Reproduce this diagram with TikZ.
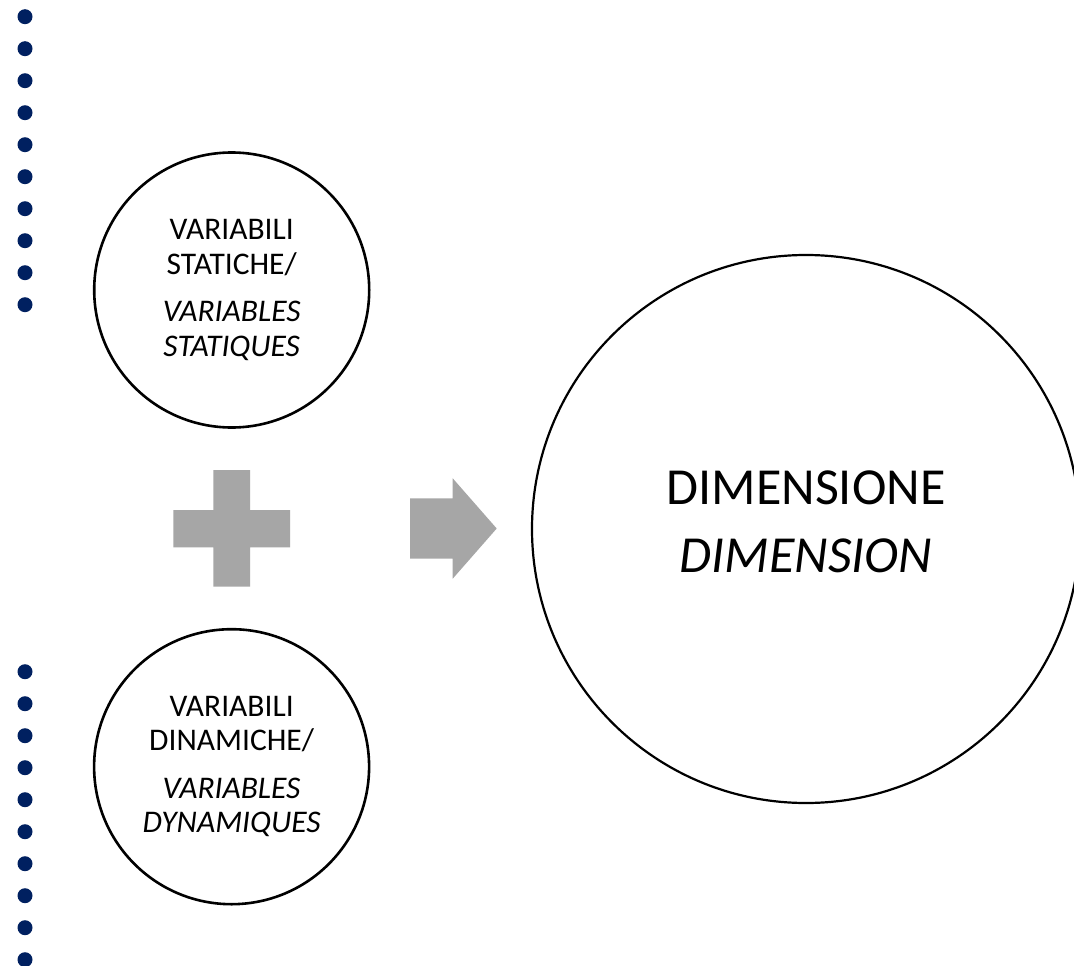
\documentclass[tikz,border=0pt]{standalone}
\usepackage{fontspec}
\setmainfont{Carlito}
\definecolor{navy}{HTML}{002060}
\definecolor{shapegray}{HTML}{A6A6A6}
\begin{document}
\begin{tikzpicture}[x=1pt,y=-1pt,
  smallcircle/.style={circle,draw=black,line width=2.6pt,minimum size=275pt,inner sep=0pt,align=center,font=\fontsize{31.5}{34.5}\selectfont},
  bigcircle/.style={circle,draw=black,line width=2.2pt,minimum size=548pt,inner sep=0pt},
  bigtext/.style={align=center,font=\fontsize{52}{68}\selectfont,inner sep=0pt},
  navydot/.style={fill=navy},
  graysym/.style={fill=shapegray}]
\useasboundingbox (0,0) rectangle (1074,966);
\clip (0,0) rectangle (1074,966);
\fill[white] (0,0) rectangle (1074,966);
\foreach \k in {0,...,9}{
  \fill[navydot] (25,16.7+32*\k) circle[radius=7.5pt];
  \fill[navydot] (25,671.7+32*\k) circle[radius=7.5pt];
}
\node[smallcircle] (stat) at (231.7,290) {VARIABILI\\STATICHE/\\[13pt]\textit{VARIABLES}\\\textit{STATIQUES}};
\node[smallcircle] (dyn) at (231.6,766.7) {VARIABILI\\DINAMICHE/\\[13pt]\textit{VARIABLES}\\\textit{DYNAMIQUES}};
\node[bigcircle] (dim) at (806,529) {};
\node[bigtext] (dimtext) at (806,521.7) {DIMENSIONE\\\textit{DIMENSION}};
\fill[graysym] (213.3,470) -- (250,470) -- (250,510) -- (290,510) -- (290,547.3)
  -- (250,547.3) -- (250,586.7) -- (213.3,586.7) -- (213.3,547.3) -- (173.3,547.3)
  -- (173.3,510) -- (213.3,510) -- cycle;
\fill[graysym] (410,498.3) -- (452.7,498.3) -- (452.7,478.3) -- (496.7,528.5)
  -- (452.7,578.7) -- (452.7,558.7) -- (410,558.7) -- cycle;
\end{tikzpicture}
\end{document}
